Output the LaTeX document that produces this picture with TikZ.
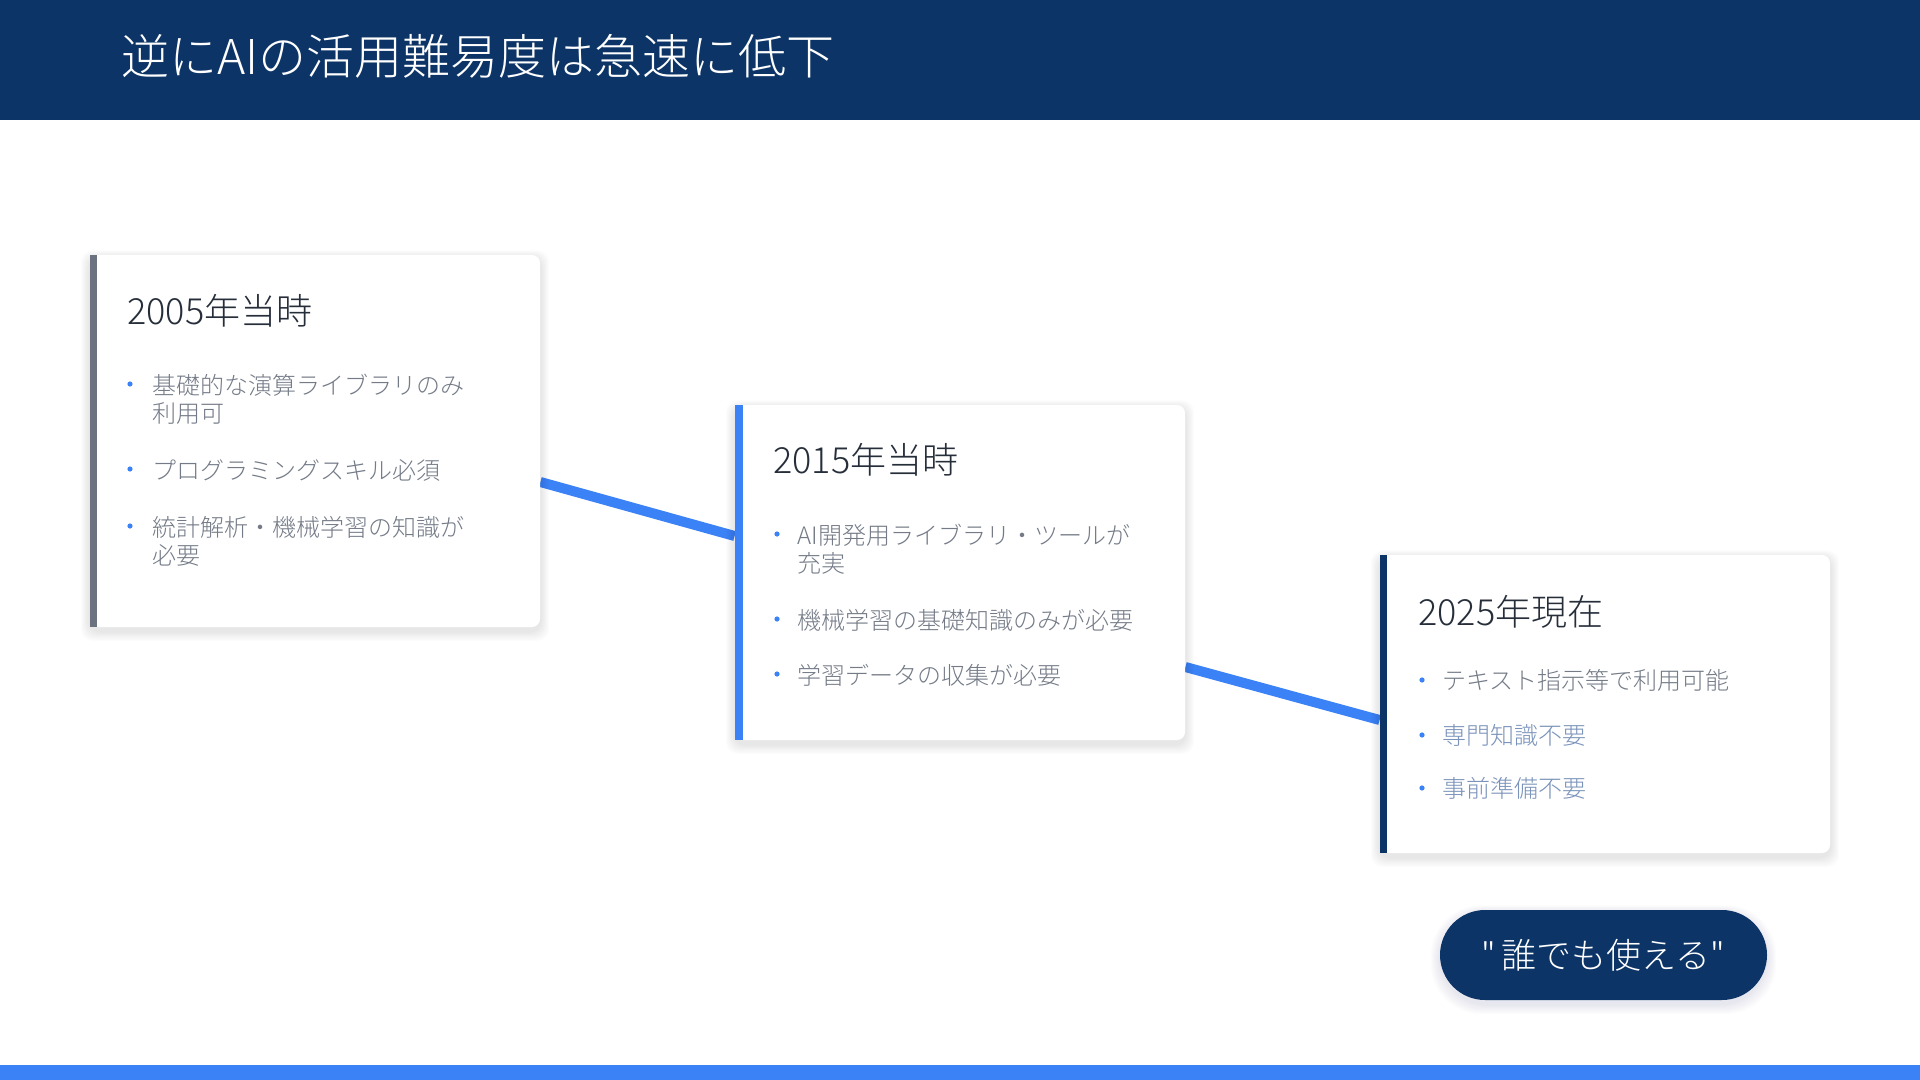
\documentclass[tikz,border=0pt]{standalone}
\usepackage{fontspec}
\IfFontExistsTF{Noto Sans CJK JP Light}{\setmainfont{Noto Sans CJK JP Light}[Ligatures=TeXOff]}{\setmainfont{Noto Sans CJK JP}[Ligatures=TeXOff]}
\definecolor{navy}{HTML}{0C3466}
\definecolor{accblue}{HTML}{3B82F6}
\definecolor{accgray}{HTML}{6B7280}
\definecolor{titletext}{HTML}{262E3A}
\definecolor{bodytext}{HTML}{747B87}
\definecolor{softblue}{HTML}{7A93BA}
\pgfdeclarelayer{bg}
\pgfdeclarelayer{lk}
\pgfsetlayers{bg,lk,main}
\newcommand\mkshadow[3]{% node, radius, colour
  \foreach \i in {1,...,8}{
    \fill[#3, opacity=0.011, rounded corners=#2]
      ([xshift=-\i*0.55pt, yshift=\i*0.45pt-1.5pt]#1.north west) rectangle
      ([xshift=\i*0.55pt, yshift=-\i*0.6pt-2pt]#1.south east);
  }}
\begin{document}
\begin{tikzpicture}[x=0.5pt,y=-0.5pt,
  card/.style={rectangle, fill=white, rounded corners=4pt, inner sep=0pt, minimum width=225pt},
  cardtitle/.style={anchor=base west, inner sep=0pt, font=\fontsize{18}{22}\selectfont, text=titletext},
  item/.style={anchor=base west, inner sep=0pt, font=\fontsize{12}{14}\selectfont, text=bodytext, text width=180pt, align=left},
  dot/.style={circle, fill=accblue, inner sep=0pt, minimum size=2.6pt},
  link/.style={draw=accblue, line width=5pt},
]
\useasboundingbox (0,0) rectangle (1920,1080);
\begin{pgfonlayer}{bg}
\fill[white] (0,0) rectangle (1920,1080);
\end{pgfonlayer}
% header and footer
\fill[navy] (0,0) rectangle (1920,120);
\fill[accblue] (0,1065) rectangle (1920,1080);
\node[anchor=base west, inner sep=0pt, text=white, font=\fontsize{24}{28}\selectfont] (title) at (121,75) {逆にAIの活用難易度は急速に低下};

% cards
\node[card, minimum height=186pt] (c1) at (315,441) {};
\node[card, minimum height=167.5pt] (c2) at (960,572.5) {};
\node[card, minimum height=149pt] (c3) at (1605,704) {};

\fill[accgray] (c1.north west) rectangle ([xshift=3.5pt]c1.south west);
\fill[accblue] (c2.north west) rectangle ([xshift=4pt]c2.south west);
\fill[navy] (c3.north west) rectangle ([xshift=3.5pt]c3.south west);

% pill
\node[fill=navy, rounded corners=22.5pt, minimum width=163.5pt, minimum height=45pt, inner sep=0pt,
  text=white, font=\fontsize{17.5}{20}\selectfont] (pill) at (1603.5,955) {"\,誰でも使える"};

% connectors and shadows
\begin{pgfonlayer}{lk}
\draw[link] ([yshift=-20.5pt]c1.east) -- ([yshift=18.25pt]c2.west);
\draw[link] ([yshift=-47.25pt]c2.east) -- ([yshift=-8pt]c3.west);
\mkshadow{c1}{6pt}{black}
\mkshadow{c2}{6pt}{black}
\mkshadow{c3}{6pt}{black}
\mkshadow{pill}{25pt}{navy}
\end{pgfonlayer}

% card 1
\node[cardtitle] (t1) at (127,325) {2005年当時};
\node[dot] (d11) at (130,384) {};
\node[item] (i11) at (152,394) {基礎的な演算ライブラリのみ\\利用可};
\node[dot] (d12) at (130,469) {};
\node[item] (i12) at (152,479) {プログラミングスキル必須};
\node[dot] (d13) at (130,526) {};
\node[item] (i13) at (152,536) {統計解析・機械学習の知識が\\必要};

% card 2
\node[cardtitle] (t2) at (773,473) {2015年当時};
\node[dot] (d21) at (777,534) {};
\node[item] (i21) at (797,544) {AI開発用ライブラリ・ツールが\\充実};
\node[dot] (d22) at (777,619) {};
\node[item] (i22) at (797,629) {機械学習の基礎知識のみが必要};
\node[dot] (d23) at (777,674) {};
\node[item] (i23) at (797,684) {学習データの収集が必要};

% card 3
\node[cardtitle] (t3) at (1418,625) {2025年現在};
\node[dot] (d31) at (1422,680) {};
\node[item] (i31) at (1442,689) {テキスト指示等で利用可能};
\node[dot] (d32) at (1422,735) {};
\node[item, text=softblue] (i32) at (1442,744) {専門知識不要};
\node[dot] (d33) at (1422,788) {};
\node[item, text=softblue] (i33) at (1442,797) {事前準備不要};
\end{tikzpicture}
\end{document}
